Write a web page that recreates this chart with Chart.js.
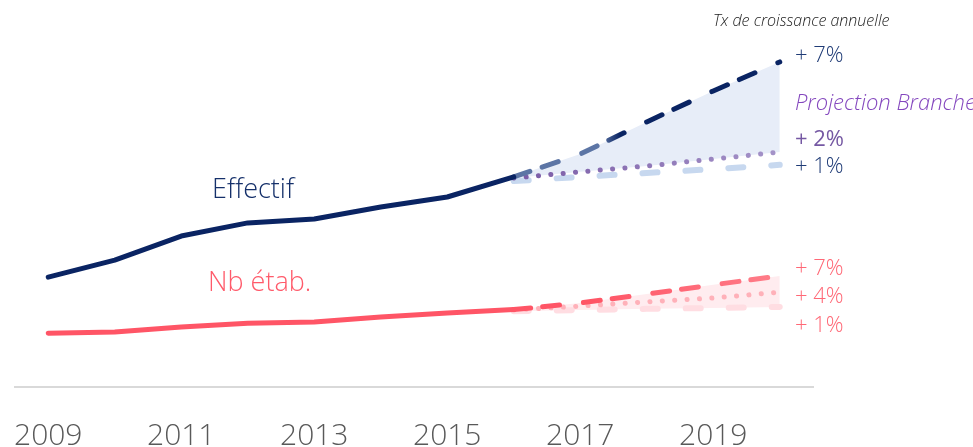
<!DOCTYPE html>
<html><head><meta charset="utf-8">
<script src="https://cdn.jsdelivr.net/npm/chart.js@4/dist/chart.umd.min.js"></script>
<style>html,body{margin:0;padding:0;background:#fff;overflow:hidden}canvas{display:block}</style>
</head><body>
<canvas id="c" width="973" height="447"></canvas>
<script>
// ---- data ----
const years = ['2009','2010','2011','2012','2013','2014','2015','2016','2017','2018','2019','2020'];
const xTickLabels = ['2009','2011','2013','2015','2017','2019'];
const histYears = ['2009','2010','2011','2012','2013','2014','2015','2016'];
const effectif = [28.4, 32.8, 39.0, 42.4, 43.4, 46.5, 49.1, 54.3];
const nbEtab   = [13.9, 14.2, 15.5, 16.5, 16.8, 18.1, 19.1, 20.0];
const projYears = ['2016','2017','2018','2019','2020'];
const effProj7  = [54.3, 60.2, 68.5, 76.5, 84.0];
const effProj2  = [54.0, 55.6, 57.1, 58.9, 60.7];
const effProj1  = [53.2, 54.3, 55.3, 56.3, 57.4];
const etabProj7 = [20.0, 21.7, 24.0, 26.4, 28.7];
const etabProj4 = [19.9, 20.9, 22.0, 23.0, 24.5];
const etabProj1 = [19.6, 19.9, 20.2, 20.4, 20.7];

const toPts = (xs, ys) => xs.map((x, i) => ({x, y: ys[i]}));

function grad(c0, c1, from, to) {
  return function(ctx) {
    const chart = ctx.chart, sx = chart.scales.x;
    if (!chart.chartArea || !sx) return c0;
    const a = sx.getPixelForValue(years.indexOf('2016'));
    const b = sx.getPixelForValue(years.indexOf('2020'));
    const g = chart.ctx.createLinearGradient(a, 0, b, 0);
    g.addColorStop(0, c0); g.addColorStop(from, c0);
    g.addColorStop(to, c1); g.addColorStop(1, c1);
    return g;
  };
}

const FONT = "'Open Sans', 'Segoe UI', sans-serif";

const textPlugin = {
  id: 'texts',
  afterDraw(chart) {
    const ctx = chart.ctx;
    const items = [
      {t: 'Tx de croissance annuelle', x: 713, y: 20, s: 16, c: '#222222', i: true},
      {t: '+ 7%', x: 795, y: 54, s: 22, c: '#1F3B76'},
      {t: 'Projection Branche', x: 795, y: 102, s: 22, c: '#8447BE', i: true},
      {t: '+ 2%', x: 795, y: 138, s: 22, c: '#7558A3', w: 400},
      {t: '+ 1%', x: 795, y: 165, s: 22, c: '#1F3B76'},
      {t: 'Effectif', x: 212, y: 188, s: 27, c: '#15306A'},
      {t: 'Nb étab.', x: 208, y: 281, s: 27, c: '#FF5A6A'},
      {t: '+ 7%', x: 795, y: 267, s: 22, c: '#FF6876'},
      {t: '+ 4%', x: 795, y: 295, s: 22, c: '#FF6876'},
      {t: '+ 1%', x: 795, y: 324, s: 22, c: '#FF6876'}
    ];
    ctx.save();
    ctx.textAlign = 'left';
    ctx.textBaseline = 'alphabetic';
    for (const it of items) {
      ctx.font = (it.i ? 'italic ' : '') + (it.w || 300) + ' ' + it.s + 'px ' + FONT;
      ctx.fillStyle = it.c;
      ctx.fillText(it.t, it.x, it.y + it.s * 0.36);
    }
    ctx.restore();
  }
};

const base = {pointRadius: 0, pointHoverRadius: 0, tension: 0, borderCapStyle: 'round', borderJoinStyle: 'round', fill: false};

new Chart(document.getElementById('c'), {
  type: 'line',
  data: {
    labels: years,
    datasets: [
      {...base, label: 'Effectif', data: toPts(histYears, effectif), borderColor: '#0A2463', borderWidth: 5},
      {...base, label: 'Nb étab.', data: toPts(histYears, nbEtab), borderColor: '#FF5566', borderWidth: 5},
      {...base, label: 'Effectif +7%', data: toPts(projYears, effProj7), borderColor: grad('#5C75A5', '#0A2463', 0.33, 0.4), borderWidth: 5,
        borderDash: [17, 13, 17, 25], fill: {target: 3}, backgroundColor: '#E7EDF8'},
      {...base, label: 'Effectif +2%', data: toPts(projYears, effProj2), borderColor: grad('#7A5BA6', '#A594C9', 0, 1), borderWidth: 5,
        borderDash: [0.1, 12.3]},
      {...base, label: 'Effectif +1%', data: toPts(projYears, effProj1), borderColor: '#C7D8EF', borderWidth: 6,
        borderDash: [15, 28]},
      {...base, label: 'Nb étab. +7%', data: toPts(projYears, etabProj7), borderColor: grad('#FF5566', '#FF7E8A', 0.3, 1), borderWidth: 5,
        borderDash: [17, 12, 17, 24], fill: {target: 7}, backgroundColor: '#FFECEF'},
      {...base, label: 'Nb étab. +4%', data: toPts(projYears, etabProj4), borderColor: '#FFB1B9', borderWidth: 5,
        borderDash: [0.1, 12.3]},
      {...base, label: 'Nb étab. +1%', data: toPts(projYears, etabProj1), borderColor: '#FFDDE2', borderWidth: 6,
        borderDash: [15, 28]}
    ]
  },
  options: {
    responsive: false,
    animation: false,
    layout: {padding: {left: 15, right: 160, top: 0, bottom: 0}},
    plugins: {
      legend: {display: false},
      tooltip: {enabled: false},
      filler: {drawTime: 'beforeDatasetsDraw'}
    },
    scales: {
      x: {
        type: 'category',
        offset: true,
        grid: {display: false, drawTicks: false},
        border: {display: true, color: '#D9D9D9', width: 2},
        afterFit(scale) { scale.height = 60; scale.paddingLeft = 0; scale.paddingRight = 0; },
        ticks: {
          autoSkip: false, maxRotation: 0, padding: 31,
          color: '#595959',
          font: {family: FONT, size: 30, weight: 300},
          callback(v, i) { const l = years[i]; return xTickLabels.includes(l) ? l : ''; }
        }
      },
      y: {display: false, min: 0, max: 100}
    }
  },
  plugins: [textPlugin]
});
</script>
</body></html>
